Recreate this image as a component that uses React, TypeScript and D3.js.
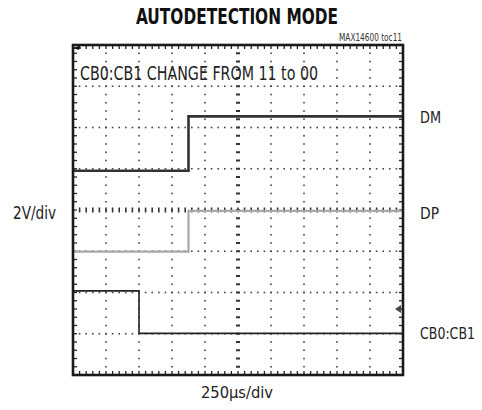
import * as d3 from "d3";

// time base 250us/div, 10 divisions; vertical 8 divisions (2V/div)
const timeTicks = [0, 250, 500, 750, 1000, 1250, 1500, 1750, 2000, 2250, 2500];
const divTicks = [0, 1, 2, 3, 4, 5, 6, 7, 8];

// traces, levels in divisions from bottom of screen
const dmTimes = [0, 875, 2500];
const dmLevels = [4.95, 6.27, 6.27];
const dpTimes = [0, 875, 2500];
const dpLevels = [2.99, 3.98, 3.98];
const cbTimes = [0, 500, 2500];
const cbLevels = [2.04, 1.01, 1.01];

const channelNames = ["DM", "DP", "CB0:CB1"];
const channelLabelLevels = [6.25, 3.92, 1.02];
const channelLabelWidths = [21, 19, 55];

const W = 482, H = 410;
const x = d3.scaleLinear().domain([0, 2500]).range([73, 403]);
const y = d3.scaleLinear().domain([0, 8]).range([375, 45]);

const font = "'DejaVu Sans Condensed', 'Roboto', sans-serif";

const line = d3
  .line<[number, number]>()
  .x((d) => x(d[0]))
  .y((d) => y(d[1]))
  .curve(d3.curveStepAfter);

const trace = (t: number[], v: number[]) => line(t.map((tt, i) => [tt, v[i]] as [number, number])) as string;

const App = () => {
  const minorX = d3.range(0, 50 + 1).map((i) => i * 50); // 50us minor
  const minorY = d3.range(0, 40 + 1).map((i) => i / 5);
  const dots: JSX.Element[] = [];
  // vertical grid lines (dotted)
  timeTicks.slice(1, -1).forEach((t) => {
    minorY.slice(1, -1).forEach((v) => {
      if (t === 1250) {
        dots.push(<rect key={`cv${v}`} x={x(t) - 2} y={y(v) - 1} width={4} height={2} fill="#333" />);
      } else {
        dots.push(<rect key={`v${t}-${v}`} x={x(t) - 0.8} y={y(v) - 0.8} width={1.6} height={1.6} fill="#444" />);
      }
    });
  });
  // horizontal grid lines (dotted)
  divTicks.slice(1, -1).forEach((v) => {
    minorX.slice(1, -1).forEach((t) => {
      if (v === 4) {
        dots.push(<rect key={`ch${t}`} x={x(t) - 0.8} y={y(v) - 2.5} width={1.6} height={5} fill="#333" />);
      } else {
        dots.push(<rect key={`h${v}-${t}`} x={x(t) - 0.8} y={y(v) - 0.8} width={1.6} height={1.6} fill="#444" />);
      }
    });
  });
  // border ticks
  const ticks: JSX.Element[] = [];
  minorX.slice(1, -1).forEach((t) => {
    ticks.push(<line key={`tt${t}`} x1={x(t)} x2={x(t)} y1={y(8)} y2={y(8) + 4} stroke="#222" strokeWidth={1.3} />);
    ticks.push(<line key={`tb${t}`} x1={x(t)} x2={x(t)} y1={y(0)} y2={y(0) - 4} stroke="#222" strokeWidth={1.3} />);
  });
  minorY.slice(1, -1).forEach((v) => {
    ticks.push(<line key={`tl${v}`} x1={x(0)} x2={x(0) + 4} y1={y(v)} y2={y(v)} stroke="#222" strokeWidth={1.3} />);
    ticks.push(<line key={`tr${v}`} x1={x(2500)} x2={x(2500) - 4} y1={y(v)} y2={y(v)} stroke="#222" strokeWidth={1.3} />);
  });

  return (
    <svg width={W} height={H} style={{ position: "absolute", left: 0, top: 0, background: "#fff" }}>
      <text x={136} y={24} fontFamily={font} fontWeight={900} fontSize={21} fill="#111"
        textLength={202} lengthAdjust="spacingAndGlyphs">
        AUTODETECTION MODE
      </text>
      <text x={339} y={41} fontFamily={font} fontSize={10} fill="#333"
        textLength={63} lengthAdjust="spacingAndGlyphs">
        MAX14600 toc11
      </text>
      {dots}
      {ticks}
      <path d={trace(dpTimes, dpLevels)} fill="none" stroke="#a8a8a8" strokeWidth={2.2} />
      <path d={trace(cbTimes, cbLevels)} fill="none" stroke="#222" strokeWidth={1.6} />
      <path d={trace(dmTimes, dmLevels)} fill="none" stroke="#333" strokeWidth={2.6} />
      <rect x={x(0)} y={y(8)} width={x(2500) - x(0)} height={y(0) - y(8)} fill="none" stroke="#1a1a1a" strokeWidth={2.6} />
      {/* ground reference marker top-left */}
      <path d={`M${x(0)},${y(8) + 3} l6,-2 l0,4 z`} fill="#111" />
      <line x1={x(0)} x2={x(0) + 8} y1={y(8) + 3} y2={y(8) + 3} stroke="#111" strokeWidth={1.2} />
      {/* trigger marker right */}
      <path d={`M${x(2500) - 8},${y(1.6)} l6,-4 l0,8 z`} fill="#444" />
      <text x={80} y={80} fontFamily={font} fontSize={19} fill="#222"
        textLength={238} lengthAdjust="spacingAndGlyphs">
        CB0:CB1 CHANGE FROM 11 to 00
      </text>
      {channelNames.map((n, i) => (
        <text key={n} x={420} y={y(channelLabelLevels[i]) + 6} fontFamily={font} fontSize={15} fill="#222"
          textLength={channelLabelWidths[i]} lengthAdjust="spacingAndGlyphs">
          {n}
        </text>
      ))}
      <text x={13} y={219} fontFamily={font} fontSize={17} fill="#222"
        textLength={43} lengthAdjust="spacingAndGlyphs">
        2V/div
      </text>
      <text x={201} y={398} fontFamily={font} fontSize={16} fill="#222"
        textLength={72} lengthAdjust="spacingAndGlyphs">
        250µs/div
      </text>
    </svg>
  );
};

export default App;
